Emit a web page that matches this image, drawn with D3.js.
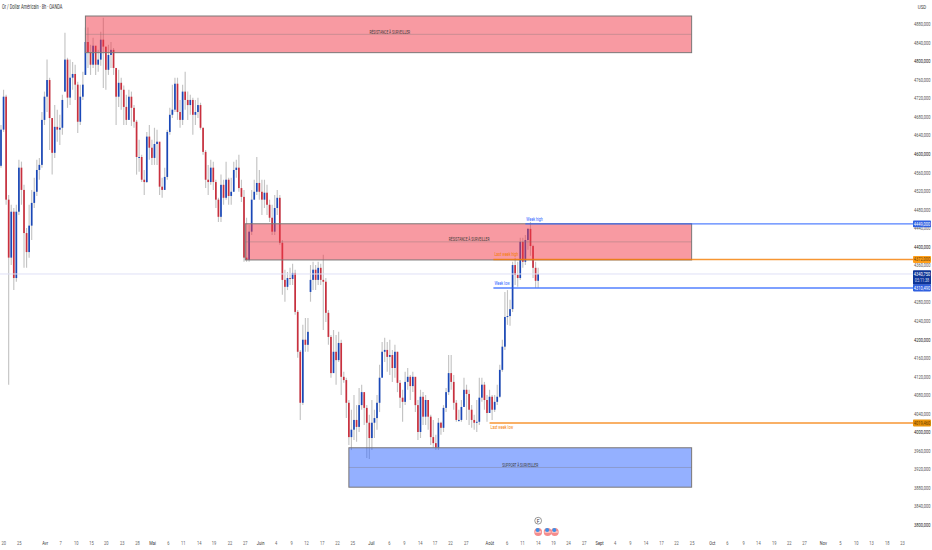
<!DOCTYPE html>
<html lang="fr">
<head>
<meta charset="utf-8">
<title>Or / Dollar Américain</title>
<script src="https://cdn.jsdelivr.net/npm/d3@7/dist/d3.min.js"></script>
<style>
    html, body { margin: 0; padding: 0; background: #fff; }
    svg { display: block; font-family: Roboto, "Liberation Sans", sans-serif; }
</style>
</head>
<body>
<div id="graph"></div>
<script>
"use strict";

// Prix, une bougie par entrée
const firstOpen = 4574;
const closes = [
    4652, 4723, 4501, 4376, 4475, 4332, 4475, 4570, 4522, 4429,
    4388, 4445, 4494, 4518, 4565, 4576, 4673, 4723, 4759, 4677,
    4602, 4658, 4652, 4656, 4716, 4803, 4721, 4764, 4772, 4749,
    4669, 4723, 4749, 4841, 4818, 4792, 4833, 4792, 4803, 4846,
    4831, 4781, 4813, 4824, 4785, 4723, 4753, 4738, 4701, 4673,
    4723, 4699, 4669, 4593, 4593, 4544, 4539, 4637, 4613, 4591,
    4621, 4626, 4529, 4522, 4550, 4647, 4684, 4695, 4751, 4690,
    4673, 4734, 4716, 4705, 4716, 4684, 4690, 4705, 4656, 4604,
    4544, 4539, 4570, 4539, 4501, 4464, 4533, 4505, 4544, 4509,
    4518, 4565, 4570, 4526, 4507, 4376, 4371, 4432, 4501, 4518,
    4537, 4518, 4501, 4516, 4490, 4462, 4432, 4483, 4505, 4408,
    4328, 4313, 4332, 4330, 4343, 4259, 4173, 4063, 4199, 4188,
    4216, 4328, 4350, 4328, 4354, 4328, 4324, 4257, 4205, 4127,
    4173, 4155, 4192, 4119, 4112, 4063, 3989, 4005, 4026, 4011,
    4058, 4086, 4052, 4020, 3987, 4020, 4030, 4063, 4117, 4173,
    4177, 4162, 4166, 4138, 4173, 4106, 4074, 4065, 4108, 4119,
    4099, 4119, 4058, 4000, 4076, 4033, 4069, 4033, 3989, 3976,
    3966, 4020, 4009, 4052, 4086, 4127, 4108, 4063, 4026, 4026,
    4054, 4091, 4082, 4048, 4026, 4020, 4022, 4074, 4102, 4069,
    4041, 4076, 4048, 4065, 4076, 4134, 4184, 4248, 4250, 4265,
    4360, 4339, 4332, 4410, 4367, 4414, 4438, 4401, 4354, 4326, 4341
];
const highs = [
    4662, 4738, 4727, 4511, 4490, 4483, 4490, 4587, 4583, 4533,
    4440, 4490, 4522, 4548, 4587, 4591, 4690, 4734, 4803, 4764,
    4677, 4705, 4695, 4684, 4727, 4861, 4807, 4803, 4798, 4792,
    4755, 4749, 4777, 4872, 4872, 4835, 4850, 4824, 4824, 4863,
    4893, 4824, 4835, 4841, 4828, 4781, 4781, 4764, 4747, 4727,
    4738, 4734, 4705, 4673, 4630, 4598, 4565, 4647, 4662, 4630,
    4656, 4652, 4613, 4548, 4570, 4652, 4699, 4749, 4764, 4764,
    4716, 4749, 4777, 4734, 4727, 4721, 4716, 4721, 4710, 4656,
    4608, 4576, 4587, 4583, 4544, 4505, 4555, 4544, 4583, 4548,
    4548, 4583, 4587, 4598, 4544, 4522, 4462, 4447, 4522, 4544,
    4593, 4565, 4544, 4544, 4533, 4501, 4490, 4511, 4522, 4511,
    4414, 4350, 4345, 4354, 4363, 4350, 4263, 4177, 4231, 4246,
    4246, 4360, 4367, 4360, 4367, 4363, 4382, 4332, 4263, 4209,
    4220, 4209, 4216, 4199, 4130, 4117, 4069, 4048, 4080, 4058,
    4095, 4102, 4080, 4058, 4037, 4069, 4048, 4080, 4145, 4194,
    4203, 4194, 4199, 4177, 4188, 4173, 4112, 4091, 4130, 4138,
    4123, 4130, 4102, 4069, 4091, 4086, 4080, 4069, 4037, 4026,
    3994, 4030, 4022, 4058, 4095, 4166, 4166, 4123, 4069, 4048,
    4069, 4117, 4102, 4091, 4058, 4037, 4069, 4117, 4117, 4108,
    4080, 4091, 4080, 4080, 4102, 4145, 4199, 4302, 4306, 4285,
    4367, 4376, 4367, 4419, 4419, 4425, 4440, 4453, 4404, 4367, 4354
];
const lows = [
    4570, 4647, 4490, 4102, 4360, 4306, 4324, 4468, 4490, 4354,
    4354, 4376, 4414, 4483, 4509, 4544, 4570, 4662, 4690, 4608,
    4555, 4591, 4626, 4619, 4641, 4734, 4699, 4705, 4738, 4716,
    4645, 4662, 4716, 4770, 4785, 4770, 4785, 4770, 4777, 4790,
    4742, 4738, 4770, 4785, 4770, 4662, 4701, 4695, 4662, 4662,
    4673, 4660, 4656, 4555, 4561, 4539, 4511, 4537, 4587, 4576,
    4576, 4576, 4511, 4505, 4533, 4544, 4641, 4677, 4690, 4673,
    4656, 4662, 4695, 4673, 4684, 4641, 4662, 4677, 4652, 4598,
    4526, 4511, 4533, 4522, 4483, 4453, 4453, 4490, 4501, 4490,
    4490, 4522, 4548, 4518, 4496, 4367, 4367, 4367, 4425, 4501,
    4511, 4501, 4468, 4483, 4468, 4453, 4425, 4425, 4468, 4404,
    4296, 4281, 4306, 4317, 4317, 4253, 4160, 4026, 4058, 4173,
    4173, 4281, 4306, 4306, 4317, 4317, 4220, 4237, 4188, 4117,
    4151, 4102, 4151, 4080, 4106, 4030, 3972, 3961, 3983, 3979,
    4000, 4048, 4015, 3944, 3942, 3961, 3987, 4005, 4043, 4123,
    4151, 4130, 4123, 4108, 4117, 4086, 4052, 4022, 4058, 4091,
    4069, 4086, 4043, 3983, 3987, 4015, 4015, 4005, 3972, 3966,
    3961, 3961, 3994, 4000, 4043, 4080, 4091, 4048, 4022, 4022,
    4022, 4058, 4026, 4015, 4009, 4005, 4000, 4015, 4065, 4048,
    4022, 4043, 4026, 4043, 4058, 4074, 4130, 4177, 4231, 4229,
    4259, 4317, 4313, 4328, 4354, 4360, 4393, 4380, 4332, 4311, 4311
];
// Ouvertures qui ne suivent pas la clôture précédente (gap)
const gapOpens = new Map([[121, 4302], [33, 4770], [25, 4734], [118, 4063]]);

// 4320 est caché par les étiquettes de prix
const priceTicks = d3.range(3800, 4881, 40).filter(d => d !== 4320);
const tickBars = [
    0.9, 6.9, 17.1, 23.1, 29.2, 35.2, 41, 47.2, 53.2, 59.1, 65.2, 71.1, 77.3, 83.1, 89.3, 95.3,
    101.3, 107.4, 113.4, 119.2, 125.4, 131.4, 137.3, 144.6, 151.6, 157.5, 163.7, 169.5, 175.5, 181.7,
    190.9, 197.7, 203.7, 209.8, 215.8, 221.7, 227.8, 233.8, 239.9, 245.9, 252, 258, 263.9, 270,
    277.9, 283.8, 290.1, 295.9, 302.1, 308, 313.9, 321.3, 328, 334.2, 340.1, 346.3, 352.2
];
const tickLabels = [
    "20", "25", "Avr", "7", "10", "15", "20", "23", "28", "Mai", "6", "11", "14", "19", "22", "27",
    "Juin", "4", "9", "12", "17", "22", "25", "Juil", "6", "9", "14", "17", "22", "27",
    "Août", "6", "11", "14", "19", "24", "27", "Sept", "4", "9", "14", "17", "22", "25",
    "Oct", "6", "9", "14", "19", "22", "27", "Nov", "5", "10", "13", "18", "23"
];
const monthLabels = ["Avr", "Mai", "Juin", "Juil", "Août", "Sept", "Oct", "Nov"];

// Zones à surveiller
const zoneLabels = ["RÉSISTANCE À SURVEILLER", "RÉSISTANCE À SURVEILLER", "SUPPORT À SURVEILLER"];
const zoneStarts = [33, 95.5, 136];
const zoneEnd = 270;
const zoneTops = [4897, 4449, 3966];
const zoneBottoms = [4818, 4371, 3881];
const zoneColors = ["#f23645", "#f23645", "#2962ff"];
const zoneLabelBars = [152, 183, 203];

// Niveaux de la semaine
const levelNames = ["Week high", "Last week high", "Week low", "Last week low"];
const levelPrices = [4449, 4372, 4310.49, 4019.46];
const levelStarts = [205, 192.5, 192.5, 191];
const levelColors = ["#2962ff", "#f57c00", "#2962ff", "#f57c00"];
const tagColors = ["#2f5fe0", "#ff9f1a", "#2f5fe0", "#e8930c"];
const tagTextColors = ["#fff", "#6b4100", "#fff", "#6b4100"];
const lastPrice = 4340.75;
const countdown = "05:11:38";

const width = 932;
const height = 550;
const xScale = d3.scaleLinear().domain([0, 361]).range([1, 924.4]);
const yScale = d3.scaleLinear().domain([3800, 4800]).range([524.75, 61]);
const plotRight = 913;
const formatPrice = v => d3.format(".3f")(v).replace(".", ",");

// Le texte du graphique est très étroit : on le resserre en largeur
function squeeze(selection, factor) {
    selection.each(function () {
        const x = this.getAttribute("x") || 0;
        const y = this.getAttribute("y") || 0;
        this.setAttribute("x", 0);
        this.setAttribute("y", 0);
        this.setAttribute("transform", `translate(${x},${y}) scale(${factor},1)`);
    });
}

const svg = d3.select("#graph")
    .append("svg")
    .attr("width", width)
    .attr("height", height);

// Bougies
const bars = svg.append("g").attr("class", "candles");
const opens = closes.map((c, i) => gapOpens.get(i) ?? (i === 0 ? firstOpen : closes[i - 1]));

bars.selectAll(".wick")
    .data(closes)
    .enter().append("line")
    .attr("class", "wick")
    .attr("x1", (d, i) => xScale(i))
    .attr("x2", (d, i) => xScale(i))
    .attr("y1", (d, i) => yScale(highs[i]))
    .attr("y2", (d, i) => yScale(lows[i]))
    .attr("stroke", "#c4c4c4")
    .attr("stroke-width", 1.15);

bars.selectAll(".body")
    .data(closes)
    .enter().append("rect")
    .attr("class", "body")
    .attr("x", (d, i) => xScale(i) - 0.85)
    .attr("width", 1.7)
    .attr("y", (d, i) => yScale(Math.max(d, opens[i])))
    .attr("height", (d, i) => Math.max(1, Math.abs(yScale(d) - yScale(opens[i]))))
    .attr("fill", (d, i) => d >= opens[i] ? "#1a48b8" : "#c9303e");

// Ligne du dernier prix
svg.append("line")
    .attr("x1", 0)
    .attr("x2", plotRight)
    .attr("y1", yScale(lastPrice))
    .attr("y2", yScale(lastPrice))
    .attr("stroke", "#dfe0f6")
    .attr("stroke-width", 1);

// Zones
const zones = svg.append("g").attr("class", "zones");
zoneLabels.forEach((label, i) => {
    const x0 = xScale(zoneStarts[i]);
    const x1 = xScale(zoneEnd);
    const y0 = yScale(zoneTops[i]);
    const y1 = yScale(zoneBottoms[i]);

    zones.append("rect")
        .attr("x", x0)
        .attr("y", y0)
        .attr("width", x1 - x0)
        .attr("height", y1 - y0)
        .attr("fill", zoneColors[i])
        .attr("fill-opacity", 0.5)
        .attr("stroke", "#7a7676")
        .attr("stroke-width", 1);

    zones.append("line")
        .attr("x1", x0)
        .attr("x2", x1)
        .attr("y1", (y0 + y1) / 2)
        .attr("y2", (y0 + y1) / 2)
        .attr("stroke", "#7a7676")
        .attr("stroke-opacity", 0.5)
        .attr("stroke-width", 0.7);

    zones.append("text")
        .attr("x", xScale(zoneLabelBars[i]))
        .attr("y", (y0 + y1) / 2 - 0.6)
        .attr("text-anchor", "middle")
        .attr("font-size", 5.8)
        .attr("fill", "#3a3a3a")
        .text(label)
        .call(squeeze, 0.56);
});

// Axe des prix
const yAxis = svg.append("g")
    .attr("transform", `translate(930.5,0)`)
    .call(d3.axisRight(yScale).tickValues(priceTicks).tickSize(0).tickPadding(0).tickFormat(formatPrice));
yAxis.select(".domain").remove();
yAxis.selectAll("text")
    .attr("font-size", 5.6)
    .attr("font-family", "Roboto, sans-serif")
    .attr("text-anchor", "end")
    .attr("fill", d => d % 200 === 0 ? "#222" : "#555")
    .call(squeeze, 0.72);

svg.append("text")
    .attr("x", 922)
    .attr("y", 9)
    .attr("text-anchor", "middle")
    .attr("font-size", 5.6)
    .attr("fill", "#444")
    .text("USD")
    .call(squeeze, 0.8);

// Axe du temps
const xAxis = svg.append("g")
    .attr("transform", `translate(0,541)`)
    .call(d3.axisBottom(xScale).tickValues(tickBars).tickSize(0).tickPadding(0)
        .tickFormat((d, i) => tickLabels[i]));
xAxis.select(".domain").remove();
xAxis.selectAll("text")
    .attr("font-size", 5.6)
    .attr("font-family", "Roboto, sans-serif")
    .attr("fill", (d, i) => monthLabels.includes(tickLabels[i]) ? "#333" : "#666")
    .call(squeeze, 0.72);

// Niveaux : ligne et nom
levelNames.forEach((name, i) => {
    const y = yScale(levelPrices[i]);
    svg.append("line")
        .attr("x1", xScale(levelStarts[i]))
        .attr("x2", plotRight)
        .attr("y1", y)
        .attr("y2", y)
        .attr("stroke", levelColors[i])
        .attr("stroke-opacity", 0.8)
        .attr("stroke-width", 1.3);
    svg.append("text")
        .attr("x", xScale(levelStarts[i]) + 1)
        .attr("y", i === 3 ? y + 6.5 : y - 3)
        .attr("font-size", 5.8)
        .attr("fill", levelColors[i])
        .text(name)
        .call(squeeze, 0.62);
});

// Étiquette du dernier prix et compte à rebours
const lastY = yScale(lastPrice);
svg.append("rect")
    .attr("x", 913)
    .attr("y", lastY - 3.7)
    .attr("width", 18)
    .attr("height", 14.5)
    .attr("rx", 0.8)
    .attr("fill", "#0f3596");
svg.append("text")
    .attr("x", 922)
    .attr("y", lastY + 2)
    .attr("text-anchor", "middle")
    .attr("font-size", 5.6)
    .attr("fill", "#fff")
    .text(formatPrice(lastPrice))
    .call(squeeze, 0.72);
svg.append("text")
    .attr("x", 922)
    .attr("y", lastY + 8)
    .attr("text-anchor", "middle")
    .attr("font-size", 5)
    .attr("fill", "#d5dcf5")
    .text(countdown)
    .call(squeeze, 0.75);

// Étiquettes des niveaux à droite
levelPrices.forEach((price, i) => {
    const y = yScale(price);
    svg.append("rect")
        .attr("x", 913)
        .attr("y", y - 3.4)
        .attr("width", 18)
        .attr("height", 6.8)
        .attr("rx", 0.8)
        .attr("fill", tagColors[i]);
    svg.append("text")
        .attr("x", 922)
        .attr("y", y + 2)
        .attr("text-anchor", "middle")
        .attr("font-size", 5.6)
        .attr("fill", tagTextColors[i])
        .text(formatPrice(price))
        .call(squeeze, 0.72);
});

// Titre
svg.append("text")
    .attr("x", 2)
    .attr("y", 9)
    .attr("font-size", 6.4)
    .attr("fill", "#333")
    .text("Or / Dollar Américain · 8h · OANDA")
    .call(squeeze, 0.62);

// Événements économiques sous le graphique
const eventBars = [210, 213.7, 216.5];
const events = svg.append("g");
events.append("circle")
    .attr("cx", xScale(eventBars[0]))
    .attr("cy", 520.7)
    .attr("r", 3.4)
    .attr("fill", "#fff")
    .attr("stroke", "#555")
    .attr("stroke-width", 0.6);
events.append("text")
    .attr("x", xScale(eventBars[0]))
    .attr("y", 522.6)
    .attr("text-anchor", "middle")
    .attr("font-size", 5)
    .attr("fill", "#333")
    .text("F");
eventBars.forEach(bar => {
    const cx = xScale(bar);
    events.append("circle").attr("cx", cx).attr("cy", 532).attr("r", 3.9).attr("fill", "#f58c8c");
    events.append("rect").attr("x", cx - 3).attr("y", 531.4).attr("width", 6).attr("height", 1.2).attr("fill", "#fbe3e3");
    events.append("circle").attr("cx", cx - 0.5).attr("cy", 530).attr("r", 2).attr("fill", "#3f8fe8");
});
</script>
</body>
</html>
